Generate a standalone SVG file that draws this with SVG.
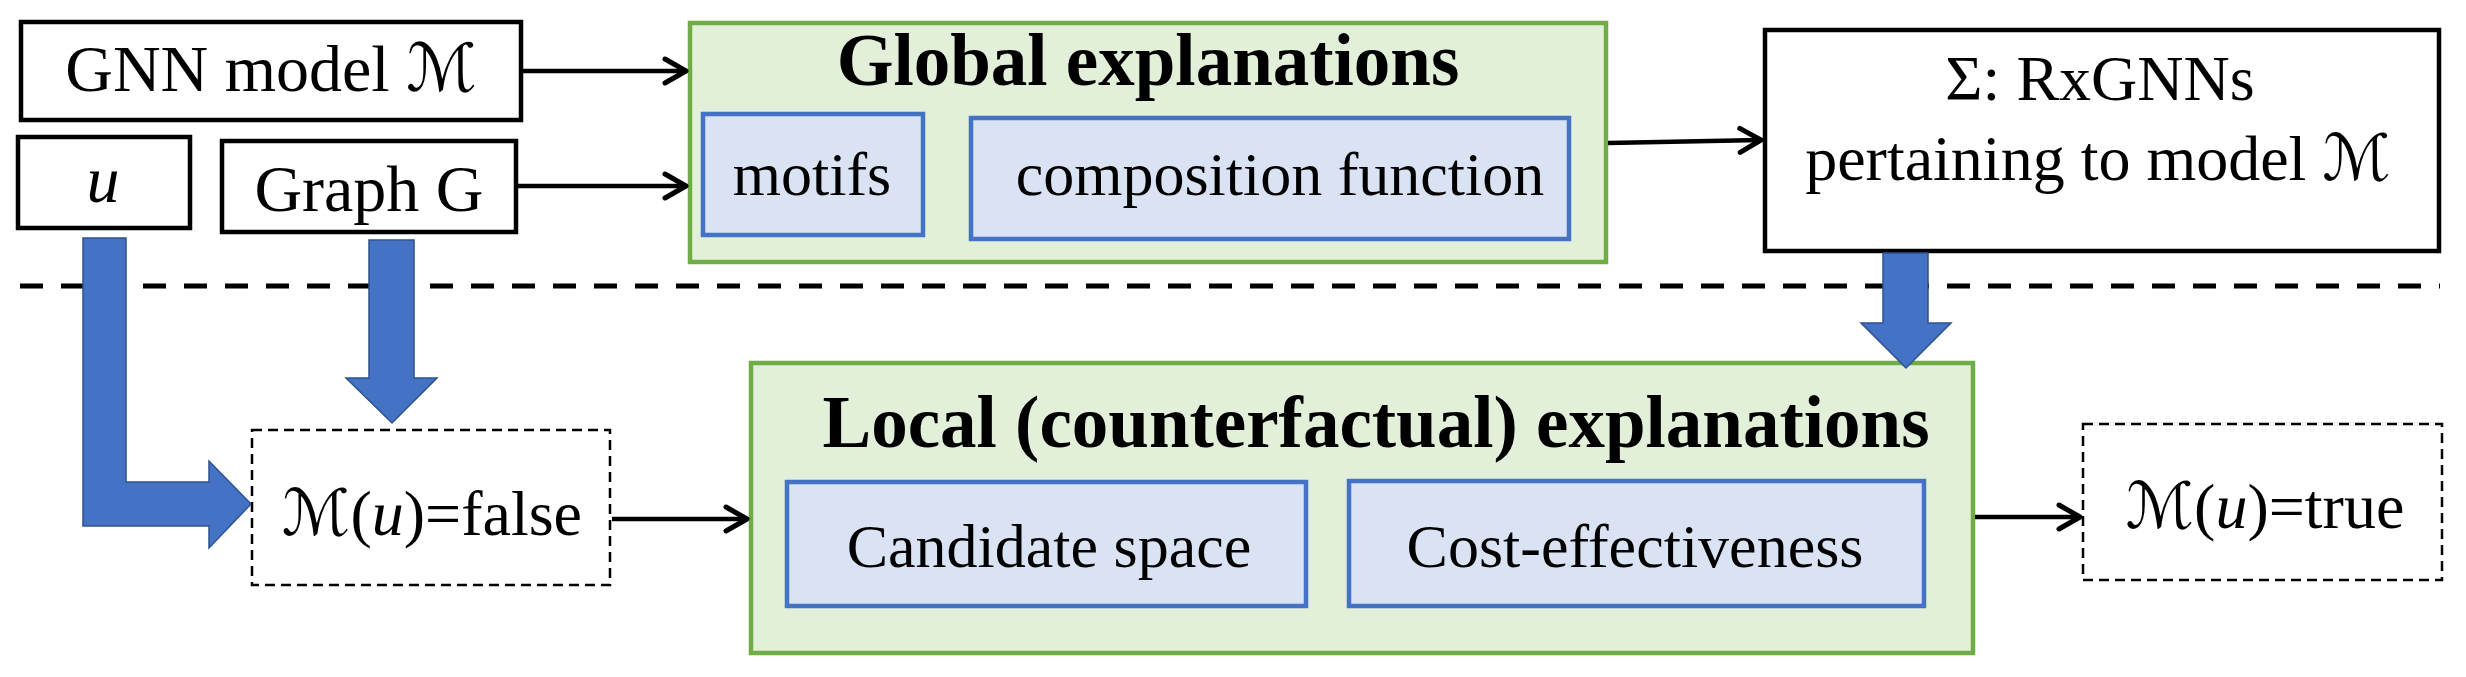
<svg xmlns="http://www.w3.org/2000/svg" width="2466" height="677" viewBox="0 0 2466 677">
<style>
.bx{fill:#fff;stroke:#000;stroke-width:4.5}
.gr{fill:#E2F0D9;stroke:#70AD47;stroke-width:4.5}
.bl{fill:#DAE3F3;stroke:#4472C4;stroke-width:4.5}
.dsh{fill:#fff;stroke:#000;stroke-width:2.5;stroke-dasharray:10 6}
.t{font-family:"Liberation Serif","Times New Roman",serif;fill:#000;text-anchor:middle}
.b{font-weight:bold;font-size:73px}
.m{font-family:"DejaVu Sans","DejaVu Serif",sans-serif;font-style:italic}
.i{font-style:italic}
.con{fill:none;stroke:#000;stroke-width:4.5}
.blu{fill:#4472C4;stroke:#2F528F;stroke-width:1.5}
</style>
<defs>
<marker id="ah" markerUnits="userSpaceOnUse" markerWidth="40" markerHeight="40" refX="0" refY="0" orient="auto" viewBox="-30 -20 40 40" overflow="visible">
<path d="M-21,-12 L0,0 L-21,12" fill="none" stroke="#000" stroke-width="5" stroke-linejoin="round" stroke-linecap="round"/>
</marker>
</defs>
<rect width="2466" height="677" fill="#fff"/>
<line x1="20" y1="286" x2="2440" y2="286" stroke="#000" stroke-width="5" stroke-dasharray="23 18"/>
<g id="gnn"><rect class="bx" x="21" y="22" width="500" height="98"/><text class="t" x="271" y="91" font-size="66">GNN model <tspan class="m">ℳ</tspan></text></g>
<g id="u"><rect class="bx" x="18" y="137" width="172" height="91"/><text class="t i" x="103" y="202" font-size="66">u</text></g>
<g id="graph"><rect class="bx" x="222" y="141" width="294" height="91"/><text class="t" x="369" y="211" font-size="66">Graph G</text></g>
<g id="global"><rect class="gr" x="690" y="23" width="916" height="239"/><text class="t b" x="1148" y="85">Global explanations</text>
<g id="motifs"><rect class="bl" x="703" y="114" width="220" height="121"/><text class="t" x="812" y="195" font-size="62">motifs</text></g>
<g id="composition"><rect class="bl" x="971" y="118" width="598" height="121"/><text class="t" x="1280" y="195" font-size="62">composition function</text></g></g>
<g id="sigma"><rect class="bx" x="1765" y="30" width="674" height="221"/><text class="t" x="2100" y="100" font-size="64">Σ: RxGNNs</text><text class="t" x="2098" y="180" font-size="64">pertaining to model <tspan class="m">ℳ</tspan></text></g>
<g id="false"><rect class="dsh" x="252" y="430" width="358" height="155"/><text class="t" x="432" y="535" font-size="64"><tspan class="m">ℳ</tspan>(<tspan class="i">u</tspan>)=false</text></g>
<g id="local"><rect class="gr" x="751" y="363" width="1222" height="290"/><text class="t b" x="1376" y="447">Local (counterfactual) explanations</text>
<g id="candidate"><rect class="bl" x="787" y="482" width="519" height="124"/><text class="t" x="1049" y="567" font-size="62">Candidate space</text></g>
<g id="cost"><rect class="bl" x="1349" y="481" width="575" height="125"/><text class="t" x="1635" y="567" font-size="62">Cost-effectiveness</text></g></g>
<g id="true"><rect class="dsh" x="2083" y="424" width="359" height="156"/><text class="t" x="2265" y="528" font-size="64"><tspan class="m">ℳ</tspan>(<tspan class="i">u</tspan>)=true</text></g>
<g id="connectors">
<line class="con" x1="523" y1="71" x2="686" y2="71" marker-end="url(#ah)"/>
<line class="con" x1="518" y1="186" x2="686" y2="186" marker-end="url(#ah)"/>
<line class="con" x1="1608" y1="143" x2="1761" y2="140" marker-end="url(#ah)"/>
<line class="con" x1="612" y1="519" x2="747" y2="519" marker-end="url(#ah)"/>
<line class="con" x1="1975" y1="517" x2="2080" y2="517" marker-end="url(#ah)"/>
<polygon class="blu" points="83,238 126,238 126,482 209,482 209,461 251,504 209,548 209,526 83,526"/>
<polygon class="blu" points="369,240 414,240 414,378 437,378 392,423 346,378 369,378"/>
<polygon class="blu" points="1883,253 1928,253 1928,323 1951,323 1906,368 1861,323 1883,323"/>
</g>
</svg>
